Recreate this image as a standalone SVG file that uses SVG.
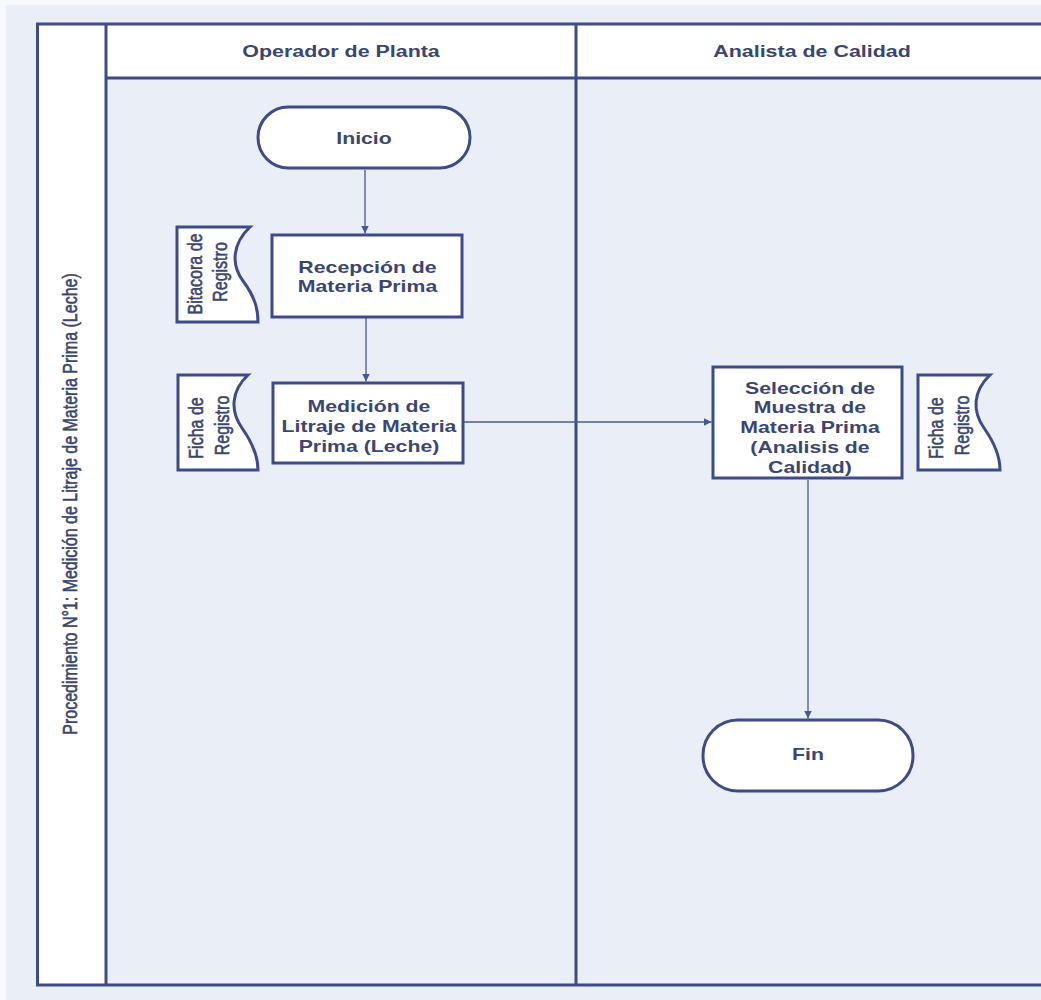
<svg xmlns="http://www.w3.org/2000/svg" width="1041" height="1000" viewBox="0 0 1041 1000">
  <defs>
    <style>
      .bg { fill: #e9eef7; }
      .frame { fill: none; stroke: #3e4b87; stroke-width: 3; }
      .node { fill: #ffffff; stroke: #3e4b87; stroke-width: 3; }
      .conn { fill: none; stroke: #4a5790; stroke-width: 1.3; }
      .hdr { font-family: "Liberation Sans", Arial, sans-serif; font-weight: bold; font-size: 17px; fill: #3a4670; text-anchor: middle; }
      .lbl { font-family: "Liberation Sans", Arial, sans-serif; font-weight: bold; font-size: 16px; fill: #3a4670; text-anchor: middle; }
      .vtx { font-family: "Liberation Sans", Arial, sans-serif; font-size: 16px; fill: #3a4670; stroke: #3a4670; stroke-width: 0.45; text-anchor: middle; }
    </style>
    <marker id="arrow" markerUnits="userSpaceOnUse" markerWidth="9" markerHeight="8" refX="8" refY="4" orient="auto">
      <path d="M0,0 L8,4 L0,8 Z" fill="#4a5790"/>
    </marker>
  </defs>

  <rect x="0" y="0" width="1041" height="1000" fill="#f7f9fc"/>
  <rect class="bg" x="6" y="5" width="1035" height="995"/>

  <g id="swimlanes">
    <rect x="37.5" y="24" width="68.5" height="961" fill="#ffffff"/>
    <rect x="106" y="24" width="940" height="54" fill="#ffffff"/>
    <path class="frame" d="M1045,24 H37.5 V985 H1045"/>
    <line class="frame" x1="106" y1="24" x2="106" y2="985"/>
    <line class="frame" x1="106" y1="78" x2="1045" y2="78"/>
    <line class="frame" x1="576" y1="24" x2="576" y2="985"/>
    <text class="vtx" transform="translate(77,504) rotate(-90) scale(1,1.3)">Procedimiento N°1: Medición de Litraje de Materia Prima (Leche)</text>
    <text class="hdr" transform="translate(341,57) scale(1.26,1)">Operador de Planta</text>
    <text class="hdr" transform="translate(812,57) scale(1.26,1)">Analista de Calidad</text>
  </g>

  <g id="connectors">
    <line class="conn" x1="365" y1="170" x2="365" y2="233.5" marker-end="url(#arrow)"/>
    <line class="conn" x1="366" y1="318" x2="366" y2="381.5" marker-end="url(#arrow)"/>
    <line class="conn" x1="464" y1="422" x2="711.5" y2="422" marker-end="url(#arrow)"/>
    <line class="conn" x1="808" y1="480" x2="808" y2="718.5" marker-end="url(#arrow)"/>
  </g>

  <g id="inicio">
    <rect class="node" x="258" y="107" width="212" height="61" rx="30.5" ry="30.5"/>
    <text class="lbl" transform="translate(364,143.5) scale(1.33,1)">Inicio</text>
  </g>

  <g id="recepcion">
    <rect class="node" x="272" y="235" width="190" height="82"/>
    <text class="lbl" transform="translate(367.5,273) scale(1.33,1)"><tspan x="0" y="0">Recepción de</tspan><tspan x="0" y="19">Materia Prima</tspan></text>
  </g>

  <g id="doc-bitacora">
    <path class="node" d="M177,227 H250 C232,244 231,265 243,281 C255,297 258,309 258,322 H177 Z"/>
    <text class="vtx" transform="translate(202,274) rotate(-90) scale(1,1.3)">Bitacora de</text>
    <text class="vtx" transform="translate(227,272) rotate(-90) scale(1,1.3)">Registro</text>
  </g>

  <g id="medicion">
    <rect class="node" x="273" y="383" width="190" height="80"/>
    <text class="lbl" transform="translate(369,412) scale(1.33,1)"><tspan x="0" y="0">Medición de</tspan><tspan x="0" y="20">Litraje de Materia</tspan><tspan x="0" y="40">Prima (Leche)</tspan></text>
  </g>

  <g id="doc-ficha-1">
    <path class="node" d="M178,375 H248 C231,391 230,411 242,428 C254,445 258,457 258,470 H178 Z"/>
    <text class="vtx" transform="translate(203,428) rotate(-90) scale(1,1.3)">Ficha de</text>
    <text class="vtx" transform="translate(229,425.5) rotate(-90) scale(1,1.3)">Registro</text>
  </g>

  <g id="seleccion">
    <rect class="node" x="713" y="367" width="189" height="111"/>
    <text class="lbl" transform="translate(810,393.5) scale(1.33,1)"><tspan x="0" y="0">Selección de</tspan><tspan x="0" y="19.8">Muestra de</tspan><tspan x="0" y="39.6">Materia Prima</tspan><tspan x="0" y="59.4">(Analisis de</tspan><tspan x="0" y="79.2">Calidad)</tspan></text>
  </g>

  <g id="doc-ficha-2">
    <path class="node" d="M918,375 H990 C973,391 972,411 984,428 C996,445 1000,457 1000,470 H918 Z"/>
    <text class="vtx" transform="translate(943,428) rotate(-90) scale(1,1.3)">Ficha de</text>
    <text class="vtx" transform="translate(969,425.5) rotate(-90) scale(1,1.3)">Registro</text>
  </g>

  <g id="fin">
    <rect class="node" x="703" y="720" width="210" height="71" rx="35" ry="35"/>
    <text class="lbl" transform="translate(808,760) scale(1.33,1)">Fin</text>
  </g>
</svg>
